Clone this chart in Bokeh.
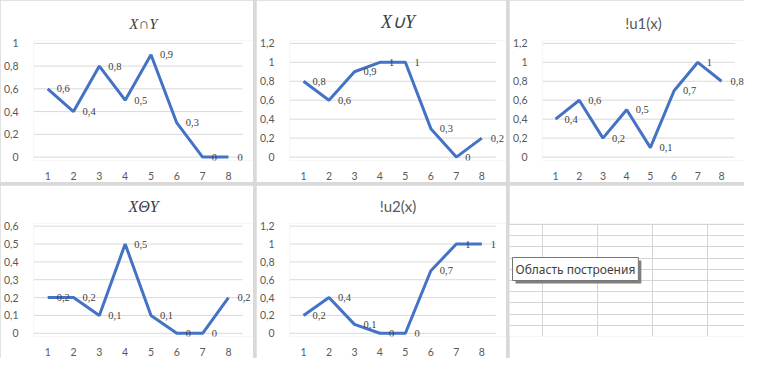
import numpy as np
from bokeh.plotting import figure
from bokeh.layouts import row, column
from bokeh.models import (Range1d, ColumnDataSource, LabelSet, CustomJSTickFormatter,
                          SingleIntervalTicker, FixedTicker, Label)
from bokeh.embed import file_html
from bokeh.resources import INLINE

x_vals = [1, 2, 3, 4, 5, 6, 7, 8]
intersection_vals = [0.6, 0.4, 0.8, 0.5, 0.9, 0.3, 0, 0]
union_vals = [0.8, 0.6, 0.9, 1, 1, 0.3, 0, 0.2]
not_u1_vals = [0.4, 0.6, 0.2, 0.5, 0.1, 0.7, 1, 0.8]
sym_diff_vals = [0.2, 0.2, 0.1, 0.5, 0.1, 0, 0, 0.2]
not_u2_vals = [0.2, 0.4, 0.1, 0, 0, 0.7, 1, 1]

titles = ["X\u2229Y", "X\u222AY", "!u1(x)", "X\u0398Y", "!u2(x)"]
math_title = [True, True, False, True, False]
title_size = ["15px", "18px", "15px", "16px", "15px"]
y_max = [1.0, 1.2, 1.2, 0.6, 1.2]
y_step = [0.2, 0.2, 0.2, 0.1, 0.2]
series = [intersection_vals, union_vals, not_u1_vals, sym_diff_vals, not_u2_vals]
tooltip_text = "Область построения"

LINE = "#4472C4"
GRID = "#d9d9d9"
TXT = "#595959"
FONT = "Lato"

widths = [253, 250, 235]
heights = [182, 173]
GAP = 3

fmt = CustomJSTickFormatter(code="var v = Math.round(tick*10)/10; return String(v).replace('.', ',');")


def make_chart(i, w, h):
    vals = series[i]
    ym = y_max[i]
    x0, x1 = 0.45, 8.55
    p = figure(width=w, height=h, output_backend="svg", toolbar_location=None,
               x_range=Range1d(x0, 8.97), y_range=Range1d(-0.03 * ym, ym * 1.025),
               min_border_left=32, min_border_right=0, min_border_top=38, min_border_bottom=22)
    p.title.text = titles[i]
    p.title.align = "center"
    p.title.offset = -8
    p.title.text_color = "#404040" if math_title[i] else TXT
    p.title.text_font_size = title_size[i]
    if math_title[i]:
        p.title.text_font = "Liberation Serif"
        p.title.text_font_style = "italic"
    else:
        p.title.text_font = FONT
        p.title.text_font_style = "normal"
    p.title.standoff = 18
    p.outline_line_color = None
    p.background_fill_color = "white"
    p.border_fill_color = "white"
    p.xgrid.visible = False
    p.ygrid.visible = False
    # horizontal gridlines across the category span only
    gy = list(np.round(np.arange(0, ym + y_step[i] / 2, y_step[i]), 2))
    p.segment(x0=[x0] * len(gy), x1=[x1] * len(gy), y0=gy, y1=gy,
              line_color=GRID, line_width=1)
    p.yaxis.ticker = SingleIntervalTicker(interval=y_step[i])
    p.xaxis.ticker = FixedTicker(ticks=x_vals)
    p.yaxis.formatter = fmt
    for ax in (p.xaxis[0], p.yaxis[0]):
        ax.axis_line_color = None
        ax.major_tick_line_color = None
        ax.minor_tick_line_color = None
        ax.major_label_text_font = FONT
        ax.major_label_text_font_size = "10.5px"
        ax.major_label_text_color = TXT
    p.xaxis.major_label_standoff = 5
    p.yaxis.major_label_standoff = 9
    labels = [("%g" % v).replace(".", ",") for v in vals]
    src = ColumnDataSource(dict(x=x_vals, y=vals, label=labels))
    p.line("x", "y", source=src, line_color=LINE, line_width=3)
    ls = LabelSet(x="x", y="y", text="label", source=src, x_offset=9, y_offset=0,
                  text_baseline="middle", text_align="left", text_font=FONT,
                  text_font_size="10.5px", text_color="#404040")
    p.add_layout(ls)
    return p


def make_sheet(w, h):
    p = figure(width=w, height=h, output_backend="svg", toolbar_location=None,
               x_range=Range1d(-0.6, 3.67), y_range=Range1d(0, 10.1),
               min_border=0)
    p.xaxis.visible = False
    p.yaxis.visible = False
    p.outline_line_color = None
    p.xgrid.ticker = SingleIntervalTicker(interval=1)
    p.ygrid.ticker = SingleIntervalTicker(interval=1)
    p.xgrid.grid_line_color = "#d4d4d4"
    p.ygrid.grid_line_color = "#d4d4d4"
    shadow = Label(x=6, y=h - 97, x_units="screen", y_units="screen", text=tooltip_text,
                   text_font="Noto Sans", text_font_size="12px", text_color="#7f7f7f",
                   text_baseline="top", text_align="left",
                   background_fill_color="#7f7f7f", padding=3)
    tip = Label(x=3, y=h - 94, x_units="screen", y_units="screen", text=tooltip_text,
                text_font="Noto Sans", text_font_size="12px", text_color="#404040",
                text_baseline="top", text_align="left",
                background_fill_color="white", border_line_color="#767676", padding=3)
    p.add_layout(shadow)
    p.add_layout(tip)
    return p


rows = []
k = 0
for r in range(2):
    items = []
    for c in range(3):
        if k < 5:
            items.append(make_chart(k, widths[c], heights[r]))
        else:
            items.append(make_sheet(widths[c], heights[r]))
        k += 1
    rows.append(row(*items, spacing=GAP))

layout = column(*rows, spacing=GAP)
layout.styles = {"background-color": "#d9d9d9"}

open("out.html", "w").write(file_html(layout, INLINE))
